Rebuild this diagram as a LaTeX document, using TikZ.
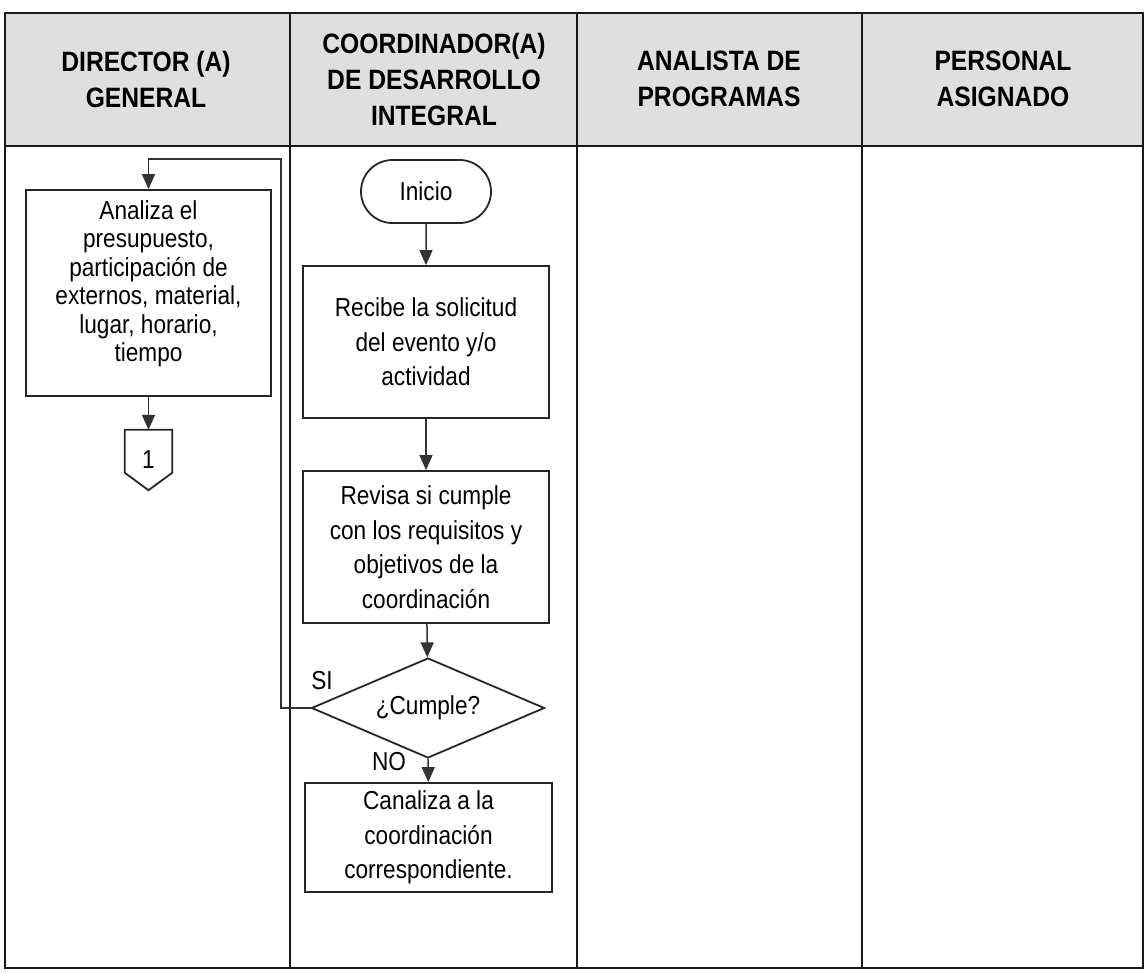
\documentclass[tikz,border=0pt]{standalone}
\usepackage{fontspec}
\setmainfont[FakeStretch=0.87]{Liberation Sans}
\newfontfamily\hdrfont[FakeStretch=0.88]{Liberation Sans}
\usetikzlibrary{shapes.geometric,shapes.misc,arrows.meta,calc}
\begin{document}
\begin{tikzpicture}[x=1pt,y=-1pt,
  tbl/.style={line width=2.2pt, draw=black!90},
  proc/.style={draw=black!85, line width=1.8pt, align=center, inner sep=0pt,
    font=\fontsize{26}{34.5}\selectfont},
  arr/.style={draw=black!80, line width=1.5pt, -{Triangle[length=15pt,width=13pt]}},
  hdr/.style={font=\hdrfont\bfseries\fontsize{28}{36}\selectfont, align=center, inner sep=0pt},
  lbl/.style={font=\fontsize{26}{28}\selectfont, inner sep=0pt}]
\useasboundingbox (0,0) rectangle (1146,972);
% table
\fill[gray!25] (5,13) rectangle (1143,146);
\draw[tbl] (5,13) rectangle (1143,968);
\draw[tbl] (5,146) -- (1143,146);
\draw[tbl] (290,13) -- (290,968);
\draw[tbl] (577,13) -- (577,968);
\draw[tbl] (862,13) -- (862,968);
% headers
\node[hdr] (h1) at (146,79) {DIRECTOR (A)\\GENERAL};
\node[hdr] (h2) at (434,79) {COORDINADOR(A)\\DE DESARROLLO\\INTEGRAL};
\node[hdr] (h3) at (719,79) {ANALISTA DE\\PROGRAMAS};
\node[hdr] (h4) at (1003,79) {PERSONAL\\ASIGNADO};
% nodes
\node[proc, minimum width=245, minimum height=206] (ana) at (148.5,293) {};
\node[align=center, inner sep=0pt, font=\fontsize{26}{28.5}\selectfont] (anat) at ($(ana.center)+(0,-9)$)
  {Analiza el\\presupuesto,\\participación de\\externos, material,\\lugar, horario,\\tiempo};
\node[minimum width=47, minimum height=60, inner sep=0pt, lbl] (c1) at (148.5,460) {1};
\draw[draw=black!85, line width=1.8pt] (c1.north west) -- (c1.north east) -- ++(0,43) -- (c1.south) -- ($(c1.north west)+(0,43)$) -- cycle;
\node[proc, rounded rectangle, minimum width=130, minimum height=63] (ini) at (426,191.5) {Inicio};
\node[proc, minimum width=246, minimum height=152] (rec) at (426,342)
  {Recibe la solicitud\\del evento y/o\\actividad};
\node[proc, minimum width=246, minimum height=152] (rev) at (426,547)
  {Revisa si cumple\\con los requisitos y\\objetivos de la\\coordinación};
\node[proc, diamond, aspect=2.33, minimum width=233, minimum height=100] (dia) at (428,708) {¿Cumple?};
\node[proc, minimum width=247, minimum height=109] (can) at (428.5,837.5)
  {Canaliza a la\\coordinación\\correspondiente.};
\coordinate (lp) at (281,159);
% connectors
\draw[arr] (ini) -- (rec);
\draw[arr] (rec) -- (rev);
\draw[arr] (rev) -- (dia);
\draw[arr] (dia) -- (can);
\draw[arr] (ana) -- (c1);
\draw[arr] (dia.west) -| (lp) -| (ana.north);
\node[lbl] (si) at (322,681) {SI};
\node[lbl] (no) at (389,762) {NO};
\end{tikzpicture}
\end{document}
